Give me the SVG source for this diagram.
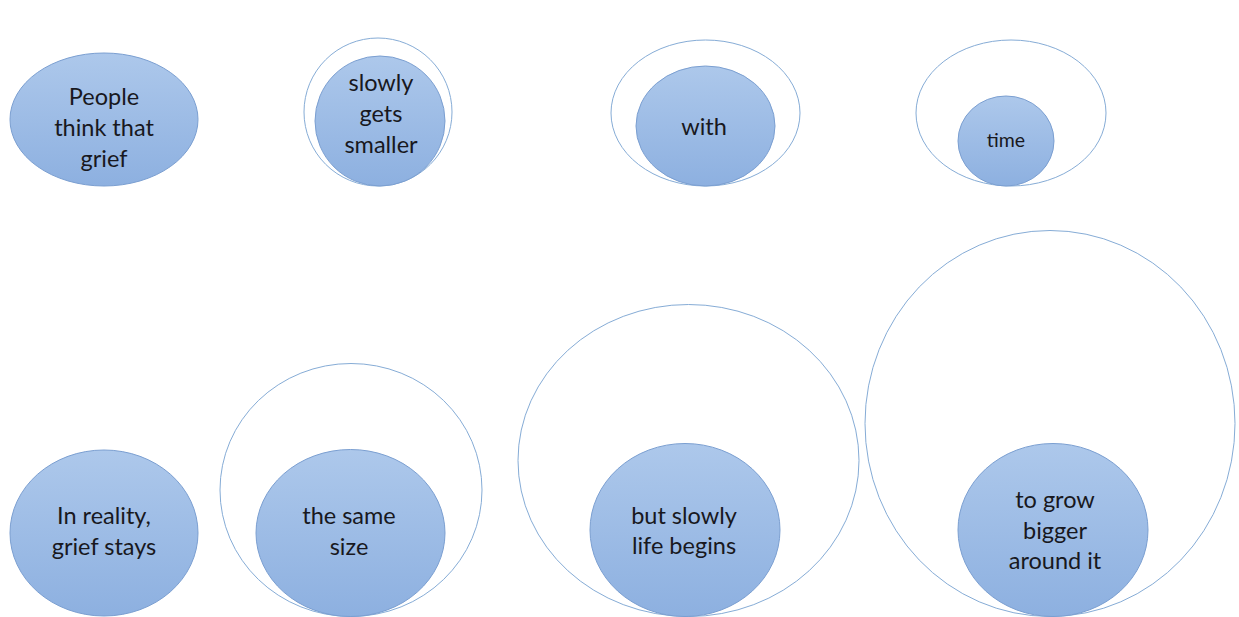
<svg xmlns="http://www.w3.org/2000/svg" width="1239" height="617" viewBox="0 0 1239 617">
<defs>
<linearGradient id="g" x1="0" y1="0" x2="0" y2="1">
<stop offset="0" stop-color="#adc8eb"/>
<stop offset="1" stop-color="#8db0e0"/>
</linearGradient>
<style>
.fill{fill:url(#g);stroke:#7b9fd1;stroke-width:1}
.outer{fill:#ffffff;stroke:#86acd6;stroke-width:1}
text{font-family:Lato,"Open Sans","Liberation Sans",sans-serif;font-size:23.5px;fill:#181820;text-anchor:middle}
.small{font-size:19.5px}
</style>
</defs>
<rect width="1239" height="617" fill="#ffffff"/>
<g id="n1">
<ellipse class="fill" cx="104" cy="119.5" rx="94" ry="66.5"/>
<text x="104" y="105">People</text>
<text x="104" y="136">think that</text>
<text x="104" y="167">grief</text>
</g>
<g id="n2">
<ellipse class="outer" cx="378" cy="112" rx="74" ry="74"/>
<ellipse class="fill" cx="380" cy="121" rx="65" ry="65"/>
<text x="381" y="91">slowly</text>
<text x="381" y="122">gets</text>
<text x="381" y="153">smaller</text>
</g>
<g id="n3">
<ellipse class="outer" cx="705.5" cy="113" rx="94.5" ry="73"/>
<ellipse class="fill" cx="705.5" cy="126" rx="69.5" ry="60"/>
<text x="704" y="135">with</text>
</g>
<g id="n4">
<ellipse class="outer" cx="1011" cy="113" rx="95" ry="73"/>
<ellipse class="fill" cx="1006" cy="141" rx="48" ry="45"/>
<text class="small" x="1006" y="147">time</text>
</g>
<g id="n5">
<ellipse class="fill" cx="104" cy="533" rx="94" ry="83"/>
<text x="104" y="524">In reality,</text>
<text x="104" y="555">grief stays</text>
</g>
<g id="n6">
<ellipse class="outer" cx="351" cy="490" rx="131" ry="126.5"/>
<ellipse class="fill" cx="350.5" cy="533" rx="94.5" ry="83.5"/>
<text x="349" y="524">the same</text>
<text x="349" y="555">size</text>
</g>
<g id="n7">
<ellipse class="outer" cx="688.5" cy="460.5" rx="170.5" ry="156"/>
<ellipse class="fill" cx="685" cy="530" rx="95" ry="86.5"/>
<text x="684" y="524">but slowly</text>
<text x="684" y="554">life begins</text>
</g>
<g id="n8">
<ellipse class="outer" cx="1050" cy="423.5" rx="185" ry="193"/>
<ellipse class="fill" cx="1053" cy="530" rx="95" ry="86.5"/>
<text x="1055" y="508">to grow</text>
<text x="1055" y="539">bigger</text>
<text x="1055" y="569">around it</text>
</g>
<g id="connectors"></g>
</svg>
